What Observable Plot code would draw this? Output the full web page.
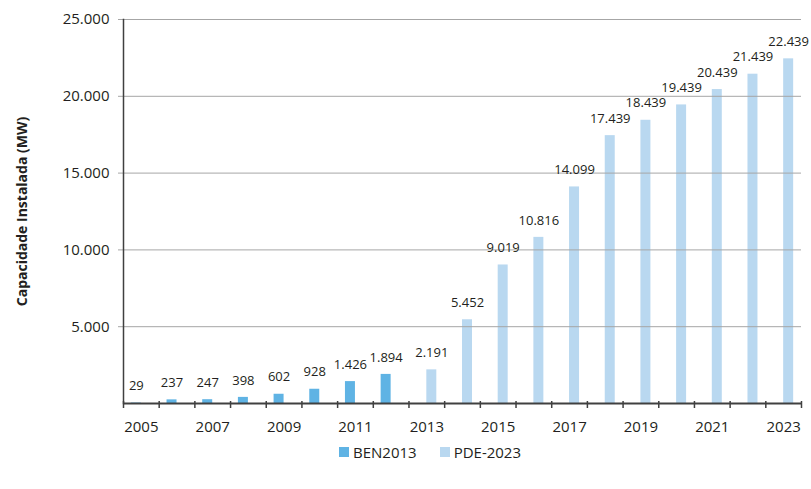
<!DOCTYPE html>
<html>
<head>
<meta charset="utf-8">
<script src="https://cdn.jsdelivr.net/npm/d3@7"></script>
<script src="https://cdn.jsdelivr.net/npm/@observablehq/plot@0.6"></script>
<style>
  html, body { margin: 0; padding: 0; background: #fff; }
  #chart { width: 811px; }
  .legend { display: flex; align-items: center; margin-left: 339px; margin-top: 2px; font: 15px "Open Sans", sans-serif; color: #231f20; }
  .legend .item { display: flex; align-items: center; margin-right: 23px; }
  .legend .sw { width: 10px; height: 10px; margin-right: 4px; }
</style>
</head>
<body>
<div id="chart"></div>
<script>
const years = d3.range(2005, 2024);
const benYears = [2005, 2006, 2007, 2008, 2009, 2010, 2011, 2012];
const benValues = [29, 237, 247, 398, 602, 928, 1426, 1894];
const pdeYears = [2013, 2014, 2015, 2016, 2017, 2018, 2019, 2020, 2021, 2022, 2023];
const pdeValues = [2191, 5452, 9019, 10816, 14099, 17439, 18439, 19439, 20439, 21439, 22439];
const seriesNames = ["BEN2013", "PDE-2023"];
const seriesColors = ["#5fb3e4", "#b9d8f0"];
const yTicks = [5000, 10000, 15000, 20000, 25000];
const xTickYears = [2005, 2007, 2009, 2011, 2013, 2015, 2017, 2019, 2021, 2023];
const yTitle = "Capacidade Instalada (MW)";

const ben = benYears.map((y, i) => ({year: y, value: benValues[i], series: seriesNames[0]}));
const pde = pdeYears.map((y, i) => ({year: y, value: pdeValues[i], series: seriesNames[1]}));

const fmt = d => d.toLocaleString("pt-BR");
const W = 811, ML = 123, MR = 10;
const step = (W - ML - MR) / years.length;

const plot = Plot.plot({
  width: W,
  height: 440,
  marginLeft: ML,
  marginRight: MR,
  marginTop: 19,
  marginBottom: 37,
  style: {fontFamily: "'Open Sans', sans-serif", color: "#231f20", background: "#fff"},
  x: {type: "band", domain: years, paddingInner: 0.72, paddingOuter: 0.36, round: false},
  y: {domain: [0, 25000]},
  color: {domain: seriesNames, range: seriesColors},
  marks: [
    Plot.barY(ben, {x: "year", y: "value", fill: "series", dx: -5}),
    Plot.barY(pde, {x: "year", y: "value", fill: "series", dx: 5}),
    Plot.ruleY(yTicks, {stroke: "#a6a6a6", strokeWidth: 1}),
    Plot.text(ben, {x: "year", y: "value", text: d => fmt(d.value), dx: -5, dy: -17, fontSize: 13, fill: "#231f20"}),
    Plot.text(pde, {x: "year", y: "value", text: d => fmt(d.value), dx: 5, dy: -17, fontSize: 13, fill: "#231f20"}),
    Plot.axisY({ticks: yTicks, tickFormat: fmt, tickSize: 5, tickPadding: 9, fontSize: 15, stroke: "#a6a6a6", label: null}),
    Plot.axisX({ticks: xTickYears, tickFormat: d => String(d), tickSize: 0, tickPadding: 18, fontSize: 15, label: null}),
    Plot.frame({anchor: "left", stroke: "#404040", strokeWidth: 1.5}),
    Plot.ruleY([0], {stroke: "#404040", strokeWidth: 2}),
    Plot.ruleX(years, {x: d => d, y1: 0, y2: 0, dx: -step / 2, insetTop: -2, insetBottom: -5, stroke: "#404040", strokeWidth: 1.5}),
    Plot.ruleX([years[years.length - 1]], {x: d => d, y1: 0, y2: 0, dx: step / 2, insetTop: -2, insetBottom: -5, stroke: "#404040", strokeWidth: 1.5}),
    Plot.text([yTitle], {frameAnchor: "left", textAnchor: "middle", lineAnchor: "middle", rotate: -90, dx: -101, fontSize: 14, fontWeight: "bold", fill: "#231f20"})
  ]
});
document.getElementById("chart").appendChild(plot);

const legend = document.createElement("div");
legend.className = "legend";
seriesNames.forEach((s, i) => {
  const item = document.createElement("div");
  item.className = "item";
  const sw = document.createElement("span");
  sw.className = "sw";
  sw.style.background = seriesColors[i];
  const lb = document.createElement("span");
  lb.textContent = s;
  item.appendChild(sw);
  item.appendChild(lb);
  legend.appendChild(item);
});
document.getElementById("chart").appendChild(legend);
</script>
</body>
</html>
